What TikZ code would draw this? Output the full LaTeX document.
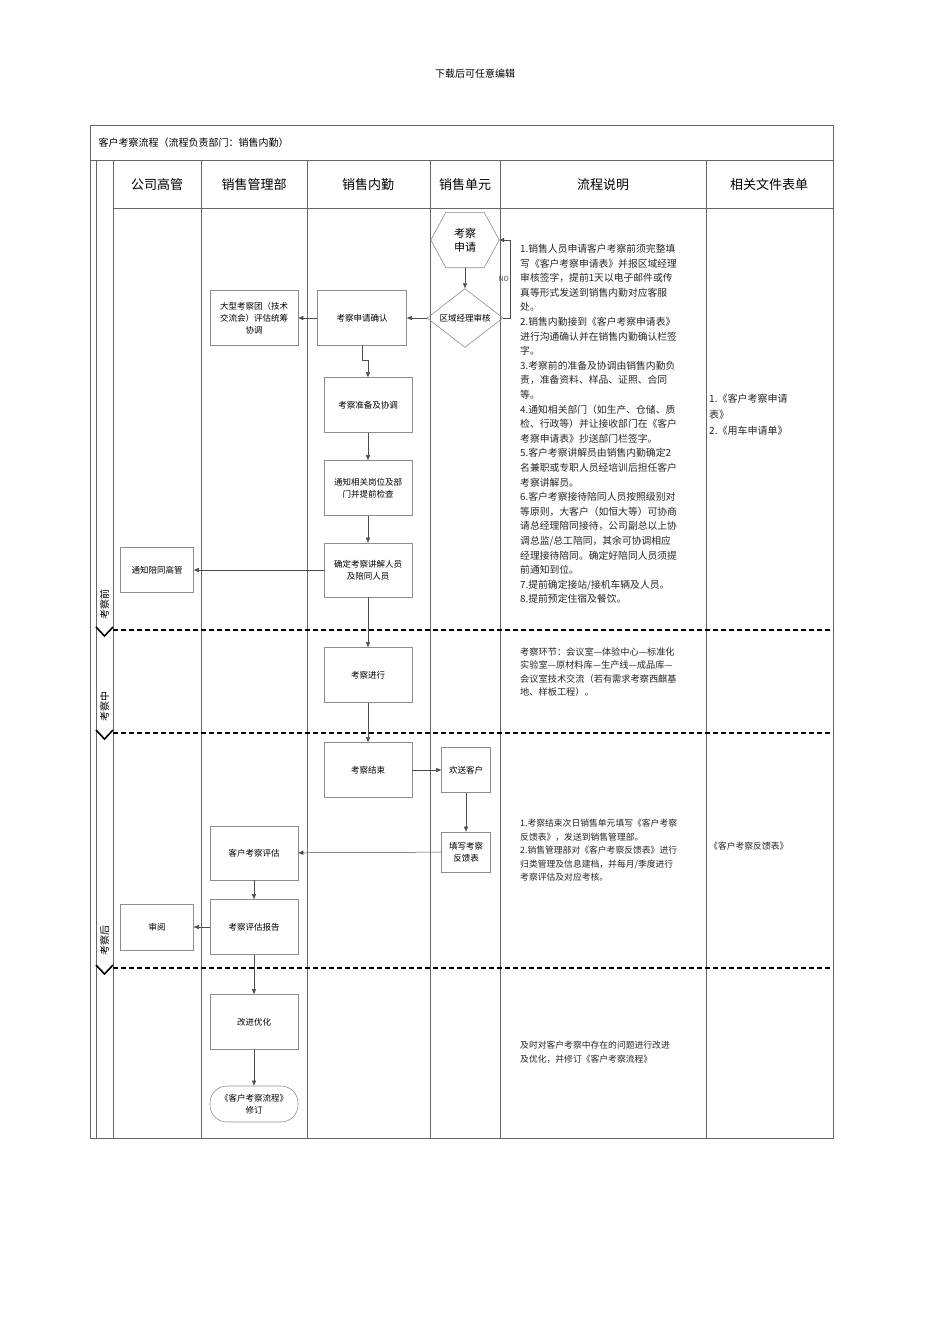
\documentclass[tikz,border=0pt]{standalone}
\usepackage{fontspec}
\setmainfont{Noto Sans CJK SC}
\usetikzlibrary{shapes.geometric,arrows.meta}
\begin{document}
\begin{tikzpicture}[x=1pt,y=-1pt,
  box/.style={draw=black!45,line width=0.6pt,font=\fontsize{8.5}{12}\selectfont,align=center,inner sep=1pt},
  arr/.style={-{Triangle[length=5pt,width=4pt]},line width=0.5pt,black!70},
  grid/.style={black!60,line width=0.6pt},
  stagesep/.style={line width=1.8pt,dash pattern=on 5pt off 3pt},
  desc/.style={anchor=north west,align=left,font=\fontsize{9.8}{14.6}\selectfont,inner sep=0pt,text=black!85},
  hdr/.style={font=\fontsize{13}{15}\selectfont}]
\useasboundingbox (0,0) rectangle (950,1344);
\node[font=\fontsize{10}{12}\selectfont] (top) at (475,74) {下载后可任意编辑};
% frame
\draw[grid,line width=0.9pt] (90,125) rectangle (833,1138);
\draw[grid] (90,160) -- (833,160);
\draw[grid] (113,208) -- (833,208);
\node[anchor=west,font=\fontsize{10}{12}\selectfont] (ttl) at (95,143) {客户考察流程（流程负责部门：销售内勤）};
\draw[grid] (96,160) -- (96,1138);
\foreach \x in {113,201,307,430,500,706} \draw[grid] (\x,160) -- (\x,1138);
\node[hdr] (h1) at (157,185) {公司高管};
\node[hdr] (h2) at (254,185) {销售管理部};
\node[hdr] (h3) at (368,185) {销售内勤};
\node[hdr] (h4) at (465,185) {销售单元};
\node[hdr] (h5) at (603,185) {流程说明};
\node[hdr] (h6) at (769,185) {相关文件表单};
% stages
\foreach \y in {630,733,968} {
  \draw[stagesep] (113,\y) -- (833,\y);
  \draw[line width=1.6pt] (96,\y-3) -- (104.5,\y+6) -- (113,\y-3);
}
\node[rotate=90,font=\fontsize{10}{12}\selectfont] (s1) at (104.5,604) {考察前};
\node[rotate=90,font=\fontsize{10}{12}\selectfont] (s2) at (104.5,706) {考察中};
\node[rotate=90,font=\fontsize{10}{12}\selectfont] (s3) at (104.5,940) {考察后};
% nodes
\node[minimum width=68pt,minimum height=55pt,inner sep=0pt,font=\fontsize{11}{14}\selectfont,align=center] (apply) at (465,240) {考察\\申请};
\draw[draw=black!45,line width=0.6pt] (apply.west) -- ([xshift=15pt]apply.north west) -- ([xshift=-15pt]apply.north east) -- (apply.east) -- ([xshift=-15pt]apply.south east) -- ([xshift=15pt]apply.south west) -- cycle;
\node[box,diamond,minimum width=76pt,minimum height=54pt,inner sep=0pt] (review) at (465,318) {区域经理审核};
\node[box,minimum width=89pt,minimum height=55pt] (confirm) at (362,318) {考察申请确认};
\node[box,minimum width=88pt,minimum height=55pt] (large) at (254,318) {大型考察团（技术\\交流会）评估统筹\\协调};
\node[box,minimum width=88pt,minimum height=55pt] (prep) at (368,405) {考察准备及协调};
\node[box,minimum width=88pt,minimum height=55pt] (notify) at (368,488) {通知相关岗位及部\\门并提前检查};
\node[box,minimum width=88pt,minimum height=54pt] (guide) at (368,570) {确定考察讲解人员\\及陪同人员};
\node[box,minimum width=73pt,minimum height=45pt] (exec) at (157,570) {通知陪同高管};
\node[box,minimum width=88pt,minimum height=55pt] (doing) at (368,675) {考察进行};
\node[box,minimum width=88pt,minimum height=55pt] (endv) at (368,770) {考察结束};
\node[box,minimum width=49pt,minimum height=45pt] (bye) at (466,770) {欢送客户};
\node[box,minimum width=49pt,minimum height=40pt] (fill) at (466,852) {填写考察\\反馈表};
\node[box,minimum width=88pt,minimum height=54pt] (eval) at (254,853) {客户考察评估};
\node[box,minimum width=73pt,minimum height=46pt] (read) at (157,927) {审阅};
\node[box,minimum width=88pt,minimum height=55pt] (report) at (254,927) {考察评估报告};
\node[box,minimum width=88pt,minimum height=55pt] (improve) at (254,1022) {改进优化};
\node[box,rounded corners=17pt,minimum width=88pt,minimum height=36pt] (revise) at (254,1104) {《客户考察流程》\\修订};
% connectors
\draw[arr] (apply) -- (review);
\coordinate (loop) at (510,318);
\draw[arr] (review.east) -- (loop) |- node[pos=0.25,left,font=\fontsize{7}{8}\selectfont,inner sep=1pt]{NO} (apply.east);
\draw[arr] (review) -- (confirm);
\draw[arr] (confirm) -- (large);
\coordinate (c1) at (362,360);
\draw[arr] (confirm.south) -- (c1) -| (prep.north);
\draw[arr] (prep) -- (notify);
\draw[arr] (notify) -- (guide);
\draw[arr] (guide) -- (exec);
\draw[arr] (guide) -- (doing);
\draw[arr] (doing) -- (endv);
\draw[arr] (endv) -- (bye);
\draw[arr] (bye) -- (fill);
\draw[arr] (fill) -- (eval);
\draw[arr] (eval) -- (report);
\draw[arr] (report) -- (read);
\draw[arr] (report) -- (improve);
\draw[arr] (improve) -- (revise);
% descriptions
\node[desc] (d1) at (520,244) {1.销售人员申请客户考察前须完整填\\写《客户考察申请表》并报区域经理\\审核签字，提前1天以电子邮件或传\\真等形式发送到销售内勤对应客服\\处。\\2.销售内勤接到《客户考察申请表》\\进行沟通确认并在销售内勤确认栏签\\字。\\3.考察前的准备及协调由销售内勤负\\责，准备资料、样品、证照、合同\\等。\\4.通知相关部门（如生产、仓储、质\\检、行政等）并让接收部门在《客户\\考察申请表》抄送部门栏签字。\\5.客户考察讲解员由销售内勤确定2\\名兼职或专职人员经培训后担任客户\\考察讲解员。\\6.客户考察接待陪同人员按照级别对\\等原则，大客户（如恒大等）可协商\\请总经理陪同接待，公司副总以上协\\调总监/总工陪同，其余可协调相应\\经理接待陪同。确定好陪同人员须提\\前通知到位。\\7.提前确定接站/接机车辆及人员。\\8.提前预定住宿及餐饮。};
\node[desc,font=\fontsize{9.2}{13.5}\selectfont] (d2) at (520,647) {考察环节：会议室—体验中心—标准化\\实验室—原材料库—生产线—成品库—\\会议室技术交流（若有需求考察西麒基\\地、样板工程）。};
\node[desc,font=\fontsize{8.8}{13.5}\selectfont] (d3) at (520,819) {1.考察结束次日销售单元填写《客户考察\\反馈表》，发送到销售管理部。\\2.销售管理部对《客户考察反馈表》进行\\归类管理及信息建档，并每月/季度进行\\考察评估及对应考核。};
\node[desc,font=\fontsize{8.8}{13.5}\selectfont] (d4) at (520,1041) {及时对客户考察中存在的问题进行改进\\及优化，并修订《客户考察流程》};
\node[desc,font=\fontsize{10}{16}\selectfont] (f1) at (709,394) {1.《客户考察申请\\表》\\2.《用车申请单》};
\node[desc,font=\fontsize{8.8}{13.5}\selectfont] (f2) at (709,842) {《客户考察反馈表》};
\end{tikzpicture}
\end{document}
